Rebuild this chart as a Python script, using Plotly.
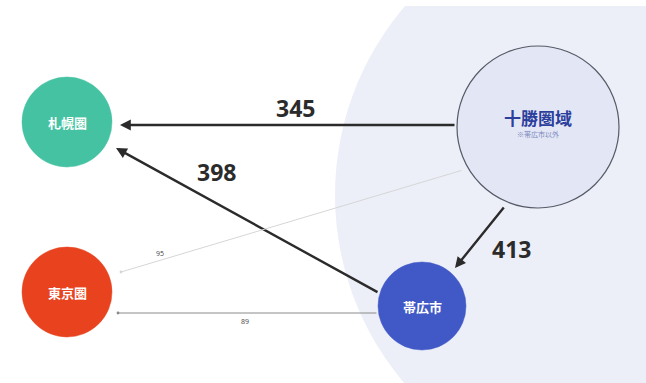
import plotly.graph_objects as go

# ---- data ----
node_names = ["札幌圏", "東京圏", "十勝圏域", "帯広市"]
node_sub = ["", "", "※帯広市以外", ""]
flow_src = ["十勝圏域", "帯広市", "十勝圏域", "十勝圏域", "帯広市"]
flow_dst = ["札幌圏", "札幌圏", "帯広市", "東京圏", "東京圏"]
flow_val = [345, 398, 413, 95, 89]

# ---- layout (pixel-like coordinates on the canvas) ----
W, H = 646, 383
node_pos = {"札幌圏": (67, 122), "東京圏": (67, 292), "十勝圏域": (538, 127), "帯広市": (422, 306)}
node_r = {"札幌圏": 45, "東京圏": 45, "十勝圏域": 81, "帯広市": 44}
node_fill = {"札幌圏": "#45C2A2", "東京圏": "#E8421E", "十勝圏域": "#E3E6F4", "帯広市": "#4159C6"}
node_line = {"札幌圏": "#45C2A2", "東京圏": "#E8421E", "十勝圏域": "#555a66", "帯広市": "#4159C6"}
node_font = {"札幌圏": "white", "東京圏": "white", "十勝圏域": "#2C3F9C", "帯広市": "white"}

# arrow endpoints: (tail, head) and label position
arrow_geom = {
    345: ((456, 125), (120, 125), (295, 108)),
    398: ((379, 293), (116, 148), (216, 172)),
    413: ((505, 206), (455, 268), (511, 249)),
    95: ((463, 170), (121, 272), (160, 253)),
    89: ((378, 313), (118, 313), (245, 321)),
}

fig = go.Figure()
fig.add_trace(go.Scatter(x=[0, W], y=[0, H], mode="markers", marker=dict(opacity=0), hoverinfo="skip", showlegend=False))

shapes = []
# background region circle
shapes.append(dict(type="circle", xref="x", yref="y", x0=335, y0=195 - 290, x1=335 + 580, y1=195 + 290,
                   fillcolor="#EDEFF8", line=dict(width=0), layer="below"))
shapes.append(dict(type="rect", xref="x", yref="y", x0=0, y0=-5, x1=W, y1=6,
                   fillcolor="white", line=dict(width=0), layer="below"))
for n in node_names:
    cx, cy = node_pos[n]
    r = node_r[n]
    shapes.append(dict(type="circle", xref="x", yref="y", x0=cx - r, y0=cy - r, x1=cx + r, y1=cy + r,
                       fillcolor=node_fill[n], line=dict(color=node_line[n], width=1.2 if n == "十勝圏域" else 0.5),
                       layer="below"))

annotations = []
for s, d, v in zip(flow_src, flow_dst, flow_val):
    (tx, ty), (hx, hy), (lx, ly) = arrow_geom[v]
    big = v > 200
    if big:
        col, w, head, size = "#2b2b2b", 2.4, 2, 0.9
    elif v == 95:
        col, w, head, size = "#d6d6d6", 1.0, 6, 0.7
    else:
        col, w, head, size = "#8a8a8a", 1.0, 6, 0.7
    annotations.append(dict(x=hx, y=hy, ax=tx, ay=ty, xref="x", yref="y", axref="x", ayref="y",
                            text="", showarrow=True, arrowhead=head, arrowsize=size, arrowwidth=w,
                            arrowcolor=col, standoff=0, startstandoff=0))
    annotations.append(dict(x=lx, y=ly, xref="x", yref="y",
                            text=("<b>%d</b>" % v) if big else str(v), showarrow=False,
                            font=dict(family="Open Sans, Noto Sans, sans-serif",
                                      size=23 if big else 7, color="#2b2b2b" if big else "#444")))

for n, sub in zip(node_names, node_sub):
    cx, cy = node_pos[n]
    if n == "十勝圏域":
        annotations.append(dict(x=cx, y=cy - 10, xref="x", yref="y", text="<b>" + n + "</b>", showarrow=False,
                                font=dict(family="Noto Sans CJK JP", size=17, color=node_font[n])))
        annotations.append(dict(x=cx, y=cy + 7, xref="x", yref="y", text=sub, showarrow=False,
                                font=dict(family="Noto Sans CJK JP", size=7, color="#7a86c0")))
    else:
        annotations.append(dict(x=cx, y=cy, xref="x", yref="y", text="<b>" + n + "</b>", showarrow=False,
                                font=dict(family="Noto Sans CJK JP", size=13, color=node_font[n])))

fig.update_layout(
    width=W, height=H, margin=dict(l=0, r=0, t=0, b=0),
    paper_bgcolor="white", plot_bgcolor="white",
    xaxis=dict(range=[0, W], visible=False, fixedrange=True),
    yaxis=dict(range=[H, 0], visible=False, fixedrange=True),
    shapes=shapes, annotations=annotations, showlegend=False,
)
fig.write_html("out.html")
